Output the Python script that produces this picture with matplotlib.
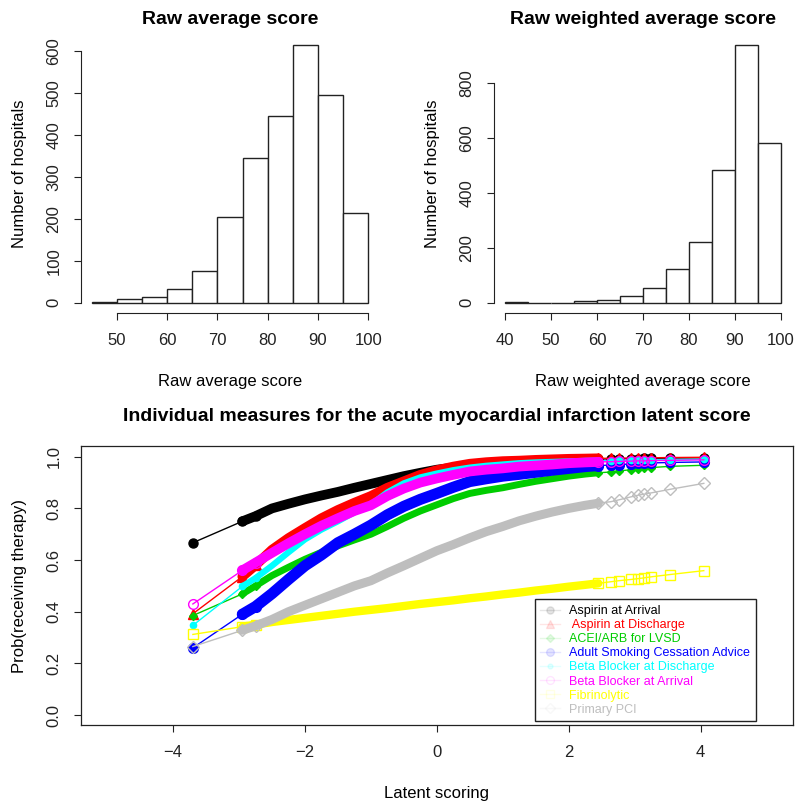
import numpy as np
import matplotlib
matplotlib.use('Agg')
import matplotlib.pyplot as plt
from matplotlib.lines import Line2D

plt.rcParams['font.family'] = ['Liberation Sans', 'DejaVu Sans']

# histogram data (bin edges and counts)
raw_breaks = [45, 50, 55, 60, 65, 70, 75, 80, 85, 90, 95, 100]
raw_counts = [2, 8, 14, 32, 75, 205, 345, 445, 615, 496, 215]

weighted_breaks = [40, 45, 50, 55, 60, 65, 70, 75, 80, 85, 90, 95, 100]
weighted_counts = [2, 0, 0, 6, 9, 26, 55, 123, 221, 483, 940, 584]

# latent score of the plotted points
latent_score = [-3.70, -2.95, -2.75, -2.50, -2.25, -2.00, -1.75, -1.50, -1.25, -1.00,
                -0.75, -0.50, -0.25, 0.00, 0.25, 0.50, 0.75, 1.00, 1.25, 1.50,
                1.75, 2.00, 2.25, 2.45, 2.64, 2.76, 2.95, 3.05, 3.14, 3.25, 3.54, 4.05]

aspirin_arrival = [0.667, 0.750, 0.770, 0.800, 0.818, 0.835, 0.850, 0.864, 0.880, 0.895,
                   0.910, 0.925, 0.938, 0.950, 0.958, 0.965, 0.971, 0.976, 0.980, 0.983,
                   0.986, 0.988, 0.990, 0.991, 0.992, 0.992, 0.993, 0.993, 0.994, 0.994, 0.995, 0.996]
aspirin_discharge = [0.392, 0.536, 0.580, 0.640, 0.685, 0.724, 0.762, 0.794, 0.822, 0.848,
                     0.880, 0.905, 0.930, 0.948, 0.962, 0.973, 0.979, 0.983, 0.985, 0.988,
                     0.990, 0.992, 0.993, 0.994, 0.994, 0.995, 0.995, 0.996, 0.996, 0.996, 0.997, 0.998]
acei_arb = [0.385, 0.469, 0.500, 0.540, 0.572, 0.603, 0.630, 0.655, 0.678, 0.700,
            0.730, 0.762, 0.790, 0.814, 0.838, 0.858, 0.870, 0.880, 0.893, 0.905,
            0.915, 0.925, 0.933, 0.938, 0.941, 0.945, 0.950, 0.954, 0.957, 0.958, 0.963, 0.967]
smoking_advice = [0.260, 0.390, 0.420, 0.470, 0.525, 0.578, 0.620, 0.667, 0.700, 0.735,
                  0.775, 0.808, 0.835, 0.858, 0.882, 0.904, 0.915, 0.925, 0.932, 0.940,
                  0.948, 0.955, 0.962, 0.966, 0.968, 0.970, 0.972, 0.974, 0.975, 0.976, 0.978, 0.980]
bb_discharge = [0.347, 0.498, 0.530, 0.578, 0.630, 0.680, 0.718, 0.750, 0.785, 0.815,
                0.862, 0.897, 0.920, 0.935, 0.948, 0.958, 0.965, 0.970, 0.975, 0.978,
                0.980, 0.982, 0.984, 0.985, 0.985, 0.986, 0.987, 0.987, 0.988, 0.988, 0.989, 0.990]
bb_arrival = [0.430, 0.560, 0.590, 0.628, 0.665, 0.700, 0.733, 0.762, 0.790, 0.812,
              0.848, 0.877, 0.900, 0.916, 0.930, 0.943, 0.950, 0.955, 0.962, 0.966,
              0.970, 0.975, 0.978, 0.980, 0.981, 0.982, 0.983, 0.984, 0.984, 0.985, 0.986, 0.988]
fibrinolytic = [0.312, 0.342, 0.350, 0.360, 0.368, 0.376, 0.384, 0.392, 0.400, 0.407,
                0.414, 0.422, 0.430, 0.437, 0.444, 0.452, 0.459, 0.467, 0.474, 0.482,
                0.489, 0.497, 0.504, 0.510, 0.516, 0.520, 0.525, 0.528, 0.531, 0.535, 0.544, 0.559]
primary_pci = [0.265, 0.328, 0.345, 0.370, 0.400, 0.425, 0.450, 0.475, 0.500, 0.520,
               0.550, 0.578, 0.607, 0.636, 0.660, 0.686, 0.710, 0.730, 0.752, 0.770,
               0.786, 0.800, 0.812, 0.820, 0.826, 0.833, 0.845, 0.851, 0.855, 0.860, 0.874, 0.897]

measure_names = ['Aspirin at Arrival', ' Aspirin at Discharge', 'ACEI/ARB for LVSD',
                 'Adult Smoking Cessation Advice', 'Beta Blocker at Discharge',
                 'Beta Blocker at Arrival', 'Fibrinolytic', 'Primary PCI']
measure_values = [aspirin_arrival, aspirin_discharge, acei_arb, smoking_advice,
                  bb_discharge, bb_arrival, fibrinolytic, primary_pci]

# style per measure: colour, marker, size, filled, band width
styles = [
    ('black', 'o', 6.5, True, 7.0),
    ('red', '^', 6.5, True, 7.0),
    ('#00CD00', 'D', 4.5, True, 5.0),
    ('blue', 'o', 7.0, True, 8.0),
    ('cyan', 'o', 4.5, True, 4.5),
    ('magenta', 'o', 7.0, False, 7.0),
    ('yellow', 's', 6.5, False, 6.0),
    ('#BEBEBE', 'D', 6.5, False, 6.5),
]

# points drawn as separate markers (sparse tails); the dense middle is a band
sparse_idx = [0, 1, 2, 23, 24, 25, 26, 27, 28, 29, 30, 31]

fig = plt.figure(figsize=(8, 8.07), dpi=100)


def r_ticks(ax):
    ax.tick_params(direction='out', length=5, width=0.8, labelsize=12, pad=9, colors='#222222')
    ax.tick_params(axis='y', labelrotation=90)
    for lab in ax.get_yticklabels():
        lab.set_verticalalignment('center')


def hist_panel(ax, breaks, counts, xticks, yticks, title, xlabel):
    breaks = np.array(breaks)
    ax.bar(breaks[:-1], counts, width=np.diff(breaks), align='edge',
           color='white', edgecolor='#222222', linewidth=1)
    span = breaks[-1] - breaks[0]
    ax.set_xlim(breaks[0] - 0.04 * span, breaks[-1] + 0.04 * span)
    top = max(counts)
    ax.set_ylim(-0.04 * top, 1.04 * top)
    ax.set_xticks(xticks)
    ax.set_yticks(yticks)
    for s in ['top', 'right']:
        ax.spines[s].set_visible(False)
    ax.spines['bottom'].set_bounds(xticks[0], xticks[-1])
    ax.spines['left'].set_bounds(yticks[0], yticks[-1])
    for s in ['bottom', 'left']:
        ax.spines[s].set_linewidth(0.8)
        ax.spines[s].set_color('#222222')
    r_ticks(ax)
    ax.set_title(title, fontsize=14, fontweight='bold', pad=8)
    ax.set_xlabel(xlabel, fontsize=12, labelpad=19)
    ax.set_ylabel('Number of hospitals', fontsize=12, labelpad=14)


ax1 = fig.add_axes([0.101, 0.612, 0.373, 0.345])
hist_panel(ax1, raw_breaks, raw_counts, [50, 60, 70, 80, 90, 100],
           [0, 100, 200, 300, 400, 500, 600], 'Raw average score', 'Raw average score')

ax2 = fig.add_axes([0.6175, 0.612, 0.3725, 0.345])
hist_panel(ax2, weighted_breaks, weighted_counts, [40, 50, 60, 70, 80, 90, 100],
           [0, 200, 400, 600, 800], 'Raw weighted average score', 'Raw weighted average score')

# latent score panel
ax3 = fig.add_axes([0.101, 0.1012, 0.89, 0.3456])
x = np.array(latent_score)
handles = []
for vals, (col, mk, ms, filled, band) in zip(measure_values, styles):
    y = np.array(vals)
    mfc = col if filled else 'none'
    ax3.plot(x, y, color=col, lw=1, marker=mk, ms=ms, mfc=mfc, mec=col, mew=1,
             markevery=sparse_idx)
    # dense cloud of hospitals in the middle forms a solid band
    ax3.plot(x[1:24], y[1:24], color=col, lw=band, solid_capstyle='round')
    handles.append(Line2D([], [], color=col, lw=1, marker=mk, ms=ms * 0.8,
                          mfc=mfc, mec=col, alpha=0.1))

ax3.set_xlim(-5.4, 5.4)
ax3.set_ylim(-0.04, 1.04)
ax3.set_xticks([-4, -2, 0, 2, 4])
ax3.set_xticklabels(['\u22124', '\u22122', '0', '2', '4'])
ax3.set_yticks([0, 0.2, 0.4, 0.6, 0.8, 1.0])
ax3.set_yticklabels(['0.0', '0.2', '0.4', '0.6', '0.8', '1.0'])
for s in ax3.spines.values():
    s.set_linewidth(0.9)
    s.set_color('#222222')
r_ticks(ax3)
ax3.set_title('Individual measures for the acute myocardial infarction latent score',
              fontsize=14, fontweight='bold', pad=18)
ax3.set_xlabel('Latent scoring', fontsize=12, labelpad=19)
ax3.set_ylabel('Prob(receiving therapy)', fontsize=12, labelpad=14)

leg = ax3.legend(handles, measure_names, loc='upper left', bbox_to_anchor=(0.6376, 0.4518),
                 borderaxespad=0, fontsize=9, labelspacing=0.17, handlelength=1.6,
                 handletextpad=0.7, borderpad=0.45, fancybox=False, framealpha=1,
                 edgecolor='#222222')
leg.get_frame().set_linewidth(1)
for txt, st in zip(leg.get_texts(), styles):
    txt.set_color(st[0])

fig.savefig('out.png', dpi=100)
